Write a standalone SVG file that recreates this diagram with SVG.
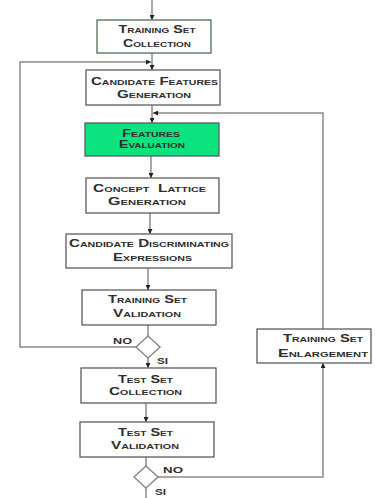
<svg xmlns="http://www.w3.org/2000/svg" width="375" height="498" viewBox="0 0 375 498">
  <defs>
    <marker id="arr" viewBox="0 0 10 10" refX="10" refY="5" markerWidth="5" markerHeight="5" markerUnits="userSpaceOnUse" orient="auto">
      <path d="M0,0 L10,5 L0,10 z" fill="#222"/>
    </marker>
  </defs>
  <style>
    .box { fill: #fff; stroke: #5c5c5c; stroke-width: 1.3; }
    .green { fill: #0be37f; }
    .start { stroke: #4f6e55; }
    .lbl { font-family: "Liberation Sans", Arial, sans-serif; font-weight: bold; font-size: 10px; font-variant: small-caps; fill: #2e2e2e; white-space: pre; }
    .yn { font-family: "Liberation Sans", Arial, sans-serif; font-weight: bold; font-size: 9px; fill: #2e2e2e; }
    .wire { fill: none; stroke: #8a8a8a; stroke-width: 1.5; }
    .dia { fill: #fff; stroke: #8a8a8a; stroke-width: 1.5; }
  </style>
  <rect width="375" height="498" fill="#fff"/>

  <g id="connectors">
    <path class="wire" d="M152,0 V20" marker-end="url(#arr)"/>
    <path class="wire" d="M152,53 V70" marker-end="url(#arr)"/>
    <path class="wire" d="M136,347 H20 V62 H151" marker-end="url(#arr)"/>
    <path class="wire" d="M152,105 V123" marker-end="url(#arr)"/>
    <path class="wire" d="M323,329 V113 H153" marker-end="url(#arr)"/>
    <path class="wire" d="M151,156 V178" marker-end="url(#arr)"/>
    <path class="wire" d="M150,213 V234" marker-end="url(#arr)"/>
    <path class="wire" d="M148,268 V290" marker-end="url(#arr)"/>
    <path class="wire" d="M148,325 V336"/>
    <path class="wire" d="M148,358 V368" marker-end="url(#arr)"/>
    <path class="wire" d="M146,403 V422" marker-end="url(#arr)"/>
    <path class="wire" d="M146,457 V466"/>
    <path class="wire" d="M158,477 H323 V363" marker-end="url(#arr)"/>
    <path class="wire" d="M146,488 V498"/>
  </g>

  <g id="training-set-collection">
    <rect class="box start" x="97" y="20" width="114" height="33"/>
    <text class="lbl" x="157" y="33" text-anchor="middle" textLength="77" lengthAdjust="spacingAndGlyphs">Training Set</text>
    <text class="lbl" x="157" y="46.5" text-anchor="middle" textLength="68" lengthAdjust="spacingAndGlyphs">Collection</text>
  </g>

  <g id="candidate-features-generation">
    <rect class="box" x="86" y="70" width="134" height="35"/>
    <text class="lbl" x="154.5" y="85" text-anchor="middle" textLength="127" lengthAdjust="spacingAndGlyphs">Candidate Features</text>
    <text class="lbl" x="154" y="97.5" text-anchor="middle" textLength="74" lengthAdjust="spacingAndGlyphs">Generation</text>
  </g>

  <g id="features-evaluation">
    <rect class="box green" x="85" y="123" width="134" height="33"/>
    <text class="lbl" x="151" y="137" text-anchor="middle" textLength="58" lengthAdjust="spacingAndGlyphs">Features</text>
    <text class="lbl" x="152" y="148" text-anchor="middle" textLength="66" lengthAdjust="spacingAndGlyphs">Evaluation</text>
  </g>

  <g id="concept-lattice-generation">
    <rect class="box" x="86" y="178" width="133" height="35"/>
    <text class="lbl" x="149.5" y="191.5" text-anchor="middle" textLength="113" lengthAdjust="spacingAndGlyphs" xml:space="preserve">Concept  Lattice</text>
    <text class="lbl" x="147" y="205" text-anchor="middle" textLength="78" lengthAdjust="spacingAndGlyphs">Generation</text>
  </g>

  <g id="candidate-discriminating-expressions">
    <rect class="box" x="66" y="234" width="166" height="34"/>
    <text class="lbl" x="149" y="247" text-anchor="middle" textLength="160" lengthAdjust="spacingAndGlyphs">Candidate Discriminating</text>
    <text class="lbl" x="152.5" y="260.5" text-anchor="middle" textLength="79" lengthAdjust="spacingAndGlyphs">Expressions</text>
  </g>

  <g id="training-set-validation">
    <rect class="box" x="82" y="290" width="134" height="35"/>
    <text class="lbl" x="147.5" y="303" text-anchor="middle" textLength="79" lengthAdjust="spacingAndGlyphs">Training Set</text>
    <text class="lbl" x="147" y="317" text-anchor="middle" textLength="68" lengthAdjust="spacingAndGlyphs">Validation</text>
  </g>

  <g id="decision-training">
    <polygon class="dia" points="148,336 160,347 148,358 136,347"/>
    <text class="yn" x="113" y="344" textLength="19" lengthAdjust="spacingAndGlyphs">NO</text>
    <text class="yn" x="157" y="364" textLength="11" lengthAdjust="spacingAndGlyphs">SI</text>
  </g>

  <g id="test-set-collection">
    <rect class="box" x="81" y="368" width="135" height="35"/>
    <text class="lbl" x="145.5" y="382.5" text-anchor="middle" textLength="55" lengthAdjust="spacingAndGlyphs">Test Set</text>
    <text class="lbl" x="145.5" y="395" text-anchor="middle" textLength="73" lengthAdjust="spacingAndGlyphs">Collection</text>
  </g>

  <g id="test-set-validation">
    <rect class="box" x="80" y="422" width="134" height="35"/>
    <text class="lbl" x="145.5" y="435.5" text-anchor="middle" textLength="55" lengthAdjust="spacingAndGlyphs">Test Set</text>
    <text class="lbl" x="145" y="449" text-anchor="middle" textLength="68" lengthAdjust="spacingAndGlyphs">Validation</text>
  </g>

  <g id="decision-test">
    <polygon class="dia" points="146,466 158,477 146,488 134,477"/>
    <text class="yn" x="163" y="473" textLength="20" lengthAdjust="spacingAndGlyphs">NO</text>
    <text class="yn" x="155" y="495" textLength="11" lengthAdjust="spacingAndGlyphs">SI</text>
  </g>

  <g id="training-set-enlargement">
    <rect class="box" x="257" y="329" width="114" height="34"/>
    <text class="lbl" x="323" y="342" text-anchor="middle" textLength="80" lengthAdjust="spacingAndGlyphs">Training Set</text>
    <text class="lbl" x="323" y="356.5" text-anchor="middle" textLength="90" lengthAdjust="spacingAndGlyphs">Enlargement</text>
  </g>
</svg>
